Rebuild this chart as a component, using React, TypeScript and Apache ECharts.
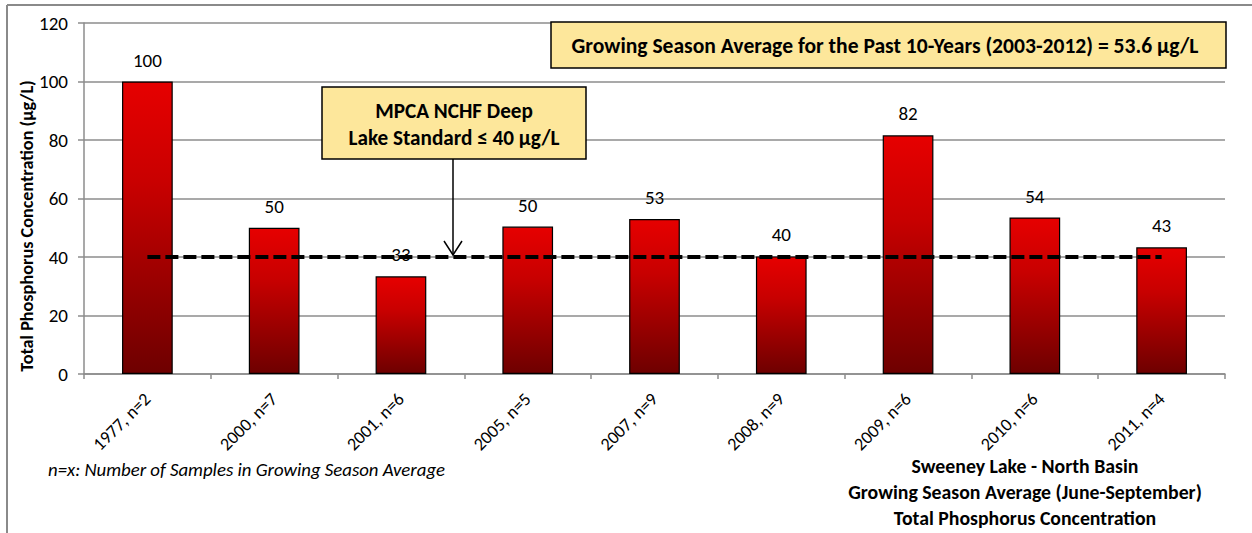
import React, { useEffect, useRef } from "react";
import * as echarts from "echarts";

const categories = [
  "1977, n=2",
  "2000, n=7",
  "2001, n=6",
  "2005, n=5",
  "2007, n=9",
  "2008, n=9",
  "2009, n=6",
  "2010, n=6",
  "2011, n=4",
];
const tpValues = [100, 50, 33.4, 50.4, 53, 40.2, 81.6, 53.5, 43.3];
const standardValues = [40, 40, 40, 40, 40, 40, 40, 40, 40];
const yTicks = { min: 0, max: 120, interval: 20 };
const yTitle = "Total Phosphorus Concentration (μg/L)";
const standardText = ["MPCA NCHF Deep", "Lake Standard ≤ 40 μg/L"];
const averageText = "Growing Season Average for the Past 10-Years (2003-2012) = 53.6 μg/L";
const footnote = "n=x: Number of Samples in Growing Season Average";
const titleLines = [
  "Sweeney Lake - North Basin",
  "Growing Season Average (June-September)",
  "Total Phosphorus Concentration",
];

const FONT = 'Carlito, Calibri, "Noto Sans", sans-serif';
const GRID = "#8c8c8c";
const BOX_FILL = "#fde79b";

export default function App() {
  const ref = useRef<HTMLDivElement>(null);
  useEffect(() => {
    if (!ref.current) return;
    const chart = echarts.init(ref.current, null, { renderer: "svg" });
    const boldText = (x: number, y: number, text: string, size: number, rotation = 0) => ({
      type: "text",
      x,
      y,
      rotation,
      style: {
        text,
        fontFamily: FONT,
        fontWeight: "bold",
        fontSize: size,
        fill: "#000",
        align: "center",
        verticalAlign: "middle",
      },
      z: 11,
    });
    chart.setOption({
      animation: false,
      backgroundColor: "#ffffff",
      textStyle: { fontFamily: FONT },
      grid: { left: 84, right: 27, top: 23, bottom: 159 },
      xAxis: {
        type: "category",
        data: categories,
        boundaryGap: true,
        axisLine: { lineStyle: { color: GRID, width: 1.5 } },
        axisTick: { show: true, alignWithLabel: false, length: 5, lineStyle: { color: GRID, width: 1.5 } },
        axisLabel: { rotate: 45, color: "#000", fontSize: 18, margin: 22, fontFamily: FONT },
      },
      yAxis: {
        type: "value",
        min: yTicks.min,
        max: yTicks.max,
        interval: yTicks.interval,
        axisLine: { show: true, lineStyle: { color: GRID, width: 1.5 } },
        axisTick: { show: true, length: 6, lineStyle: { color: GRID, width: 1.5 } },
        axisLabel: { color: "#000", fontSize: 19, margin: 16, fontFamily: FONT },
        splitLine: { lineStyle: { color: GRID, width: 1.5 } },
      },
      series: [
        {
          type: "bar",
          data: tpValues,
          barWidth: "40%",
          itemStyle: {
            borderColor: "#000",
            borderWidth: 1.2,
            color: new echarts.graphic.LinearGradient(0, 0, 0, 1, [
              { offset: 0, color: "#e60000" },
              { offset: 0.35, color: "#c80000" },
              { offset: 1, color: "#6e0000" },
            ]),
          },
          label: {
            show: true,
            position: "top",
            distance: 12,
            color: "#000",
            fontSize: 19,
            fontFamily: FONT,
            formatter: (p: any) => String(Math.round(p.value)),
          },
          z: 2,
        },
        {
          type: "line",
          data: standardValues,
          symbol: "none",
          lineStyle: { color: "#000", width: 4, type: [13, 5] },
          z: 5,
        },
      ],
      graphic: [
        { type: "line", shape: { x1: 7, y1: 5, x2: 1252, y2: 5 }, style: { stroke: "#8a8a8a", lineWidth: 2 } },
        { type: "line", shape: { x1: 7, y1: 5, x2: 7, y2: 533 }, style: { stroke: "#8a8a8a", lineWidth: 2 } },
        boldText(27, 226, yTitle, 18.2, Math.PI / 2),
        {
          type: "rect",
          shape: { x: 551, y: 22, width: 675, height: 46 },
          style: { fill: BOX_FILL, stroke: "#000", lineWidth: 1.5 },
          z: 10,
        },
        boldText(885, 45, averageText, 21.6),
        {
          type: "rect",
          shape: { x: 322, y: 87, width: 264, height: 72 },
          style: { fill: BOX_FILL, stroke: "#000", lineWidth: 1.5 },
          z: 10,
        },
        boldText(454, 111, standardText[0], 21.2),
        boldText(454, 138, standardText[1], 21.2),
        { type: "line", shape: { x1: 453, y1: 159, x2: 453, y2: 255 }, style: { stroke: "#000", lineWidth: 1.5 }, z: 11 },
        {
          type: "polyline",
          shape: { points: [[444, 241], [453, 255], [462, 241]] },
          style: { stroke: "#000", lineWidth: 1.5, fill: null },
          z: 11,
        },
        {
          type: "text",
          x: 48,
          y: 469,
          style: {
            text: footnote,
            fontFamily: FONT,
            fontStyle: "italic",
            fontSize: 18.8,
            fill: "#000",
            align: "left",
            verticalAlign: "middle",
          },
        },
        ...titleLines.map((t, i) => boldText(1025, 466 + i * 26, t, 19.8)),
      ],
    });
    return () => chart.dispose();
  }, []);
  return (
    <div
      ref={ref}
      style={{ position: "absolute", left: 0, top: 0, width: 1252, height: 533 }}
    />
  );
}
